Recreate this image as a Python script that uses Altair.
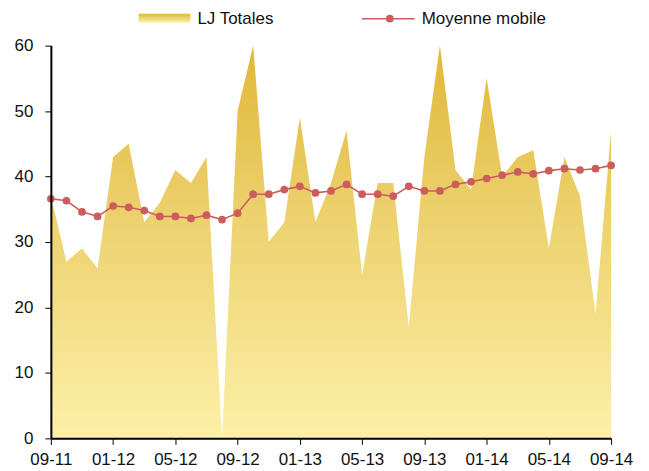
import altair as alt
import pandas as pd

months = ["09-11", "10-11", "11-11", "12-11", "01-12", "02-12", "03-12", "04-12",
          "05-12", "06-12", "07-12", "08-12", "09-12", "10-12", "11-12", "12-12",
          "01-13", "02-13", "03-13", "04-13", "05-13", "06-13", "07-13", "08-13",
          "09-13", "10-13", "11-13", "12-13", "01-14", "02-14", "03-14", "04-14",
          "05-14", "06-14", "07-14", "08-14", "09-14"]
lj_totales = [37, 27, 29, 26, 43, 45, 33, 36, 41, 39, 43, 0, 50, 60, 30, 33, 49, 33,
              39, 47, 25, 39, 39, 17, 43, 60, 41, 38, 55, 40, 43, 44, 29, 43, 37, 19, 47]
moyenne_mobile = [36.6, 36.3, 34.6, 33.9, 35.5, 35.3, 34.8, 33.9, 33.9, 33.6, 34.1, 33.4,
                  34.4, 37.3, 37.3, 38.0, 38.5, 37.5, 37.8, 38.8, 37.3, 37.3, 37.0, 38.5,
                  37.8, 37.8, 38.8, 39.2, 39.7, 40.2, 40.7, 40.4, 40.9, 41.2, 41.0, 41.2, 41.7]
tick_labels = ["09-11", "01-12", "05-12", "09-12", "01-13", "05-13", "09-13", "01-14", "05-14", "09-14"]
y_ticks = [0, 10, 20, 30, 40, 50, 60]
series_names = ["LJ Totales", "Moyenne mobile"]

df = pd.DataFrame({"mois": months, "total": lj_totales, "moyenne": moyenne_mobile})

FONT = "Liberation Sans"
RED = "#CD5C5C"
grad = alt.Gradient(
    gradient="linear",
    stops=[alt.GradientStop(color="#FDF0A8", offset=0),
           alt.GradientStop(color="#EBCF6A", offset=0.6),
           alt.GradientStop(color="#E1B737", offset=1)],
    x1=1, x2=1, y1=1, y2=0,
)

x_enc = alt.X("mois:O", sort=months, scale=alt.Scale(type="point", padding=0),
              axis=alt.Axis(values=tick_labels, labelAngle=0, title=None,
                            labelPadding=7, zindex=1))
y_enc = alt.Y("total:Q", scale=alt.Scale(domain=[0, 60], nice=False),
              axis=alt.Axis(values=y_ticks, title=None, labelPadding=12, zindex=1))

area = alt.Chart(df).mark_area(color=grad, opacity=1).encode(x=x_enc, y=y_enc)
line = alt.Chart(df).mark_line(color=RED, strokeWidth=1.6, point=alt.OverlayMarkDef(
    filled=True, color=RED, size=60, opacity=1)).encode(
    x=x_enc, y=alt.Y("moyenne:Q"))

leg1 = pd.DataFrame({"label": [series_names[0]]})
leg2 = pd.DataFrame({"label": [series_names[1]]})
leg_rect = alt.Chart(leg1).mark_rect(color=grad).encode(
    x=alt.value(88), x2=alt.value(140), y=alt.value(-32), y2=alt.value(-23))
leg_text1 = alt.Chart(leg1).mark_text(align="left", baseline="middle", font=FONT,
                                      fontSize=17, color="#111").encode(
    x=alt.value(147), y=alt.value(-27), text="label:N")
leg_rule = alt.Chart(leg2).mark_rule(color=RED, strokeWidth=1.6).encode(
    x=alt.value(312), x2=alt.value(365), y=alt.value(-27))
leg_pt = alt.Chart(leg2).mark_point(filled=True, color=RED, size=60, opacity=1).encode(
    x=alt.value(340), y=alt.value(-27))
leg_text2 = alt.Chart(leg2).mark_text(align="left", baseline="middle", font=FONT,
                                      fontSize=17, color="#111").encode(
    x=alt.value(372), y=alt.value(-27), text="label:N")

chart = alt.layer(area, line, leg_rect, leg_text1, leg_rule, leg_pt, leg_text2).properties(
    width=562, height=394,
    autosize=alt.AutoSizeParams(type="none"),
    padding={"left": 43, "top": 37, "right": 30, "bottom": 32},
).configure_view(stroke=None).configure_axis(
    grid=False, domainColor="#000", domainWidth=2, tickColor="#000", tickWidth=1,
    tickSize=6, labelFont=FONT, labelFontSize=17, labelColor="#111",
)

chart.save("out.html", embed_options={"renderer": "svg", "actions": False})
